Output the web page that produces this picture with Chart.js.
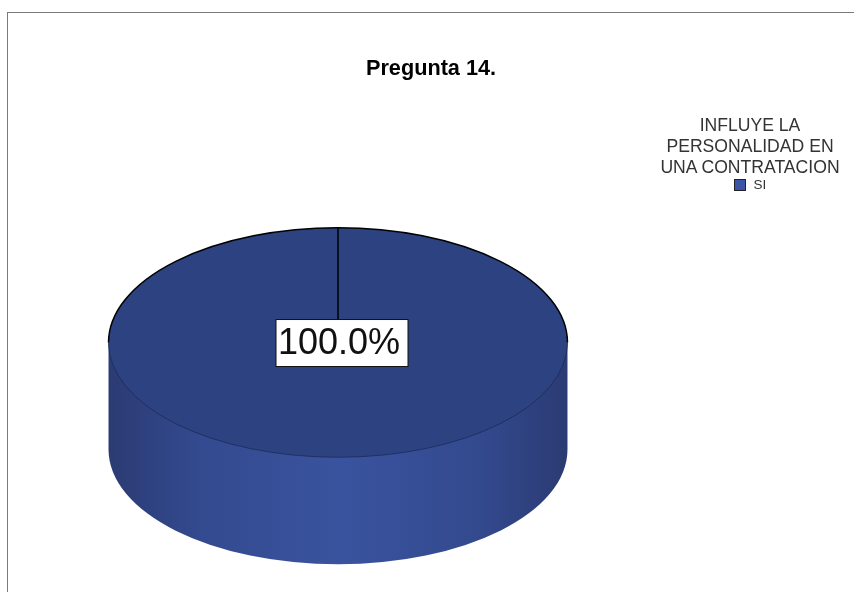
<!DOCTYPE html>
<html>
<head>
<meta charset="utf-8">
<style>
body { margin: 0; background: #fff; overflow: hidden; }
#marco { position: absolute; left: 7px; top: 12px; width: 847px; height: 580px; border-left: 1px solid #7a7a7a; border-top: 1px solid #7a7a7a; }
#leyenda { position: absolute; left: 640px; top: 115px; width: 220px; text-align: center; font-family: "Liberation Sans", Arial, sans-serif; font-size: 17.6px; line-height: 21px; color: #333; }
#leyenda .item { font-size: 13.5px; line-height: 14px; display: flex; justify-content: center; align-items: center; margin-top: 0; }
#leyenda .caja { width: 10px; height: 10px; border: 1px solid #222; margin-right: 8px; }
</style>
</head>
<body>
<div id="marco"><canvas id="grafico" width="846" height="579"></canvas></div>
<div id="leyenda"></div>
<script src="https://cdn.jsdelivr.net/npm/chart.js@4"></script>
<script>
const categorias = ['SI'];
const valores = [100];
const titulo = 'Pregunta 14.';
const tituloLeyenda = ['INFLUYE LA', 'PERSONALIDAD EN', 'UNA CONTRATACION'];

const colorTapa = '#2d4381';
const colorLeyenda = '#3a55a5';
const achatado = 0.5;
const alto = 107;

// Pared del cilindro, antes de dibujar la tapa
function dibujarPared(ctx, a) {
    const ry = a.outerRadius * achatado;
    const grad = ctx.createLinearGradient(a.x - a.outerRadius, 0, a.x + a.outerRadius, 0);
    grad.addColorStop(0, '#2b3b73');
    grad.addColorStop(0.2, '#334a8f');
    grad.addColorStop(0.5, '#3a539e');
    grad.addColorStop(0.8, '#334a8f');
    grad.addColorStop(1, '#2b3b73');
    ctx.fillStyle = grad;
    ctx.beginPath();
    ctx.moveTo(a.x - a.outerRadius, a.y);
    ctx.lineTo(a.x - a.outerRadius, a.y + alto);
    ctx.ellipse(a.x, a.y + alto, a.outerRadius, ry, 0, Math.PI, 0, true);
    ctx.lineTo(a.x + a.outerRadius, a.y);
    ctx.closePath();
    ctx.fill();
}

const pie3d = {
    id: 'pie3d',
    // el titulo va centrado en el marco, no sobre la torta
    afterLayout(chart) {
        const desplazar = (chart.width - chart.titleBlock.left - chart.titleBlock.right) / 2;
        chart.titleBlock.left += desplazar;
        chart.titleBlock.right += desplazar;
    },
    beforeDatasetDraw(chart) {
        const ctx = chart.ctx;
        const a = chart.getDatasetMeta(0).data[0];
        dibujarPared(ctx, a);
        ctx.save();
        ctx.translate(a.x, a.y);
        ctx.scale(1, achatado);
        ctx.translate(-a.x, -a.y);
    },
    afterDatasetDraw(chart) {
        const ctx = chart.ctx;
        ctx.restore();
        const a = chart.getDatasetMeta(0).data[0];
        const ry = a.outerRadius * achatado;

        // borde de la tapa
        ctx.strokeStyle = '#1c2a58';
        ctx.lineWidth = 0.8;
        ctx.beginPath();
        ctx.ellipse(a.x, a.y, a.outerRadius, ry, 0, 0, Math.PI);
        ctx.stroke();
        ctx.strokeStyle = '#000';
        ctx.lineWidth = 1.5;
        ctx.beginPath();
        ctx.ellipse(a.x, a.y, a.outerRadius, ry, 0, Math.PI, 0);
        ctx.stroke();
        ctx.beginPath();
        ctx.moveTo(a.x, a.y);
        ctx.lineTo(a.x, a.y - ry);
        ctx.stroke();

        // etiqueta de porcentaje
        const total = valores.reduce((acc, v) => acc + v, 0);
        const texto = (valores[0] / total * 100).toFixed(1) + '%';
        ctx.fillStyle = '#fff';
        ctx.strokeStyle = '#111';
        ctx.lineWidth = 1;
        ctx.fillRect(a.x - 62, a.y - 23, 132, 47);
        ctx.strokeRect(a.x - 62, a.y - 23, 132, 47);
        ctx.fillStyle = '#111';
        ctx.font = '36px "Liberation Sans", Arial, sans-serif';
        ctx.textAlign = 'left';
        ctx.textBaseline = 'middle';
        ctx.fillText(texto, a.x - 60, a.y + 2);
    }
};

const grafico = new Chart(document.getElementById('grafico'), {
    type: 'pie',
    data: {
        labels: categorias,
        datasets: [{
            data: valores,
            backgroundColor: [colorTapa],
            borderWidth: 0
        }]
    },
    options: {
        responsive: false,
        animation: false,
        layout: { padding: { left: 99.5, right: 285.5, bottom: 20 } },
        plugins: {
            legend: { display: false },
            tooltip: { enabled: false },
            title: {
                display: true,
                text: titulo,
                color: '#000',
                font: { family: '"Liberation Sans", Arial, sans-serif', size: 21.7, weight: 'bold' },
                padding: { top: 43, bottom: 31 }
            }
        }
    },
    plugins: [pie3d]
});

// Leyenda en HTML
const leyenda = document.getElementById('leyenda');
tituloLeyenda.forEach(linea => {
    const d = document.createElement('div');
    d.textContent = linea;
    leyenda.appendChild(d);
});
categorias.forEach(c => {
    const fila = document.createElement('div');
    fila.className = 'item';
    const caja = document.createElement('span');
    caja.className = 'caja';
    caja.style.background = colorLeyenda;
    const txt = document.createElement('span');
    txt.textContent = c;
    fila.appendChild(caja);
    fila.appendChild(txt);
    leyenda.appendChild(fila);
});
</script>
</body>
</html>
